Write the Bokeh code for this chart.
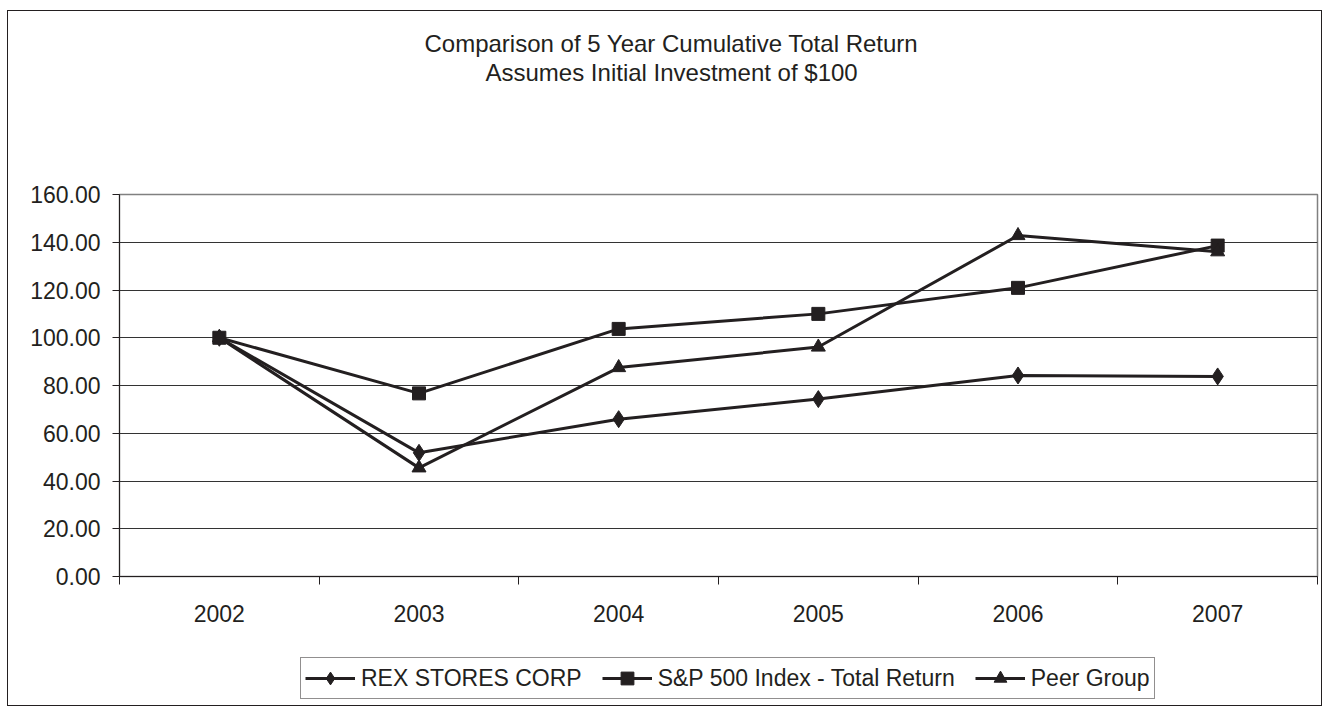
from bokeh.plotting import figure
from bokeh.layouts import column
from bokeh.models import (Range1d, FixedTicker, PrintfTickFormatter, Legend, LegendItem, Title)
from bokeh.embed import file_html
from bokeh.resources import INLINE

years = ["2002", "2003", "2004", "2005", "2006", "2007"]
rex = [100.00, 51.8, 65.9, 74.3, 84.2, 83.8]
sp500 = [100.00, 76.7, 103.7, 110.0, 120.9, 138.6]
peer = [100.00, 45.5, 87.5, 96.1, 142.8, 136.0]
y_ticks = [0, 20, 40, 60, 80, 100, 120, 140, 160]

title1 = "Comparison of 5 Year Cumulative Total Return"
title2 = "Assumes Initial Investment of $100"
series_names = ["REX STORES CORP", "S&P 500 Index - Total Return", "Peer Group"]

INK = "#231f20"
FONT = "Liberation Sans"
FS = "23px"
BORDER = "1px solid #231f20"

xs = [i + 0.5 for i in range(len(years))]

p = figure(width=1315, height=640, output_backend="svg", toolbar_location=None,
           x_range=Range1d(0, len(years)), y_range=Range1d(0, 160),
           min_border_left=111, min_border_right=6, min_border_top=183, min_border_bottom=75,
           background_fill_color="white", border_fill_color="white")
p.styles = {"border-left": BORDER, "border-right": BORDER, "border-top": BORDER}

p.title.visible = False
t2 = Title(text=title2, align="left", offset=366, standoff=0, text_font=FONT,
           text_font_size="24px", text_font_style="normal", text_color=INK,
           padding=dict(left=0, right=0, top=0, bottom=109))
t1 = Title(text=title1, align="left", offset=305, standoff=0, text_font=FONT,
           text_font_size="24px", text_font_style="normal", text_color=INK)
p.add_layout(t2, "above")
p.add_layout(t1, "above")

p.outline_line_color = "#808080"
p.outline_line_width = 1.5

p.xgrid.visible = False
p.ygrid.ticker = FixedTicker(ticks=y_ticks)
p.ygrid.grid_line_color = "#333333"
p.ygrid.grid_line_width = 1

p.yaxis.ticker = FixedTicker(ticks=y_ticks)
p.yaxis.formatter = PrintfTickFormatter(format="%.2f")
p.yaxis.major_tick_in = 0
p.yaxis.major_tick_out = 7
p.yaxis.minor_tick_line_color = None
p.yaxis.major_label_standoff = 12
p.yaxis.axis_line_color = INK
p.yaxis.major_tick_line_color = INK

p.xaxis.ticker = FixedTicker(ticks=xs, minor_ticks=list(range(len(years) + 1)))
p.xaxis.major_label_overrides = {x: y for x, y in zip(xs, years)}
p.xaxis.major_tick_in = 0
p.xaxis.major_tick_out = 0
p.xaxis.minor_tick_in = 0
p.xaxis.minor_tick_out = 8
p.xaxis.minor_tick_line_color = INK
p.xaxis.major_label_standoff = 20
p.xaxis.axis_line_color = INK

for ax in (p.xaxis, p.yaxis):
    ax.major_label_text_font = FONT
    ax.major_label_text_font_size = FS
    ax.major_label_text_color = INK

specs = [(rex, "diamond", 17), (sp500, "square", 13), (peer, "triangle", 14)]
for vals, marker, size in specs:
    p.line(xs, vals, line_color=INK, line_width=3)
    p.scatter(xs, vals, marker=marker, size=size, fill_color=INK, line_color=INK)

# legend strip below the chart; its renderers reuse the series (out of its view)
pl = figure(width=1315, height=56, output_backend="svg", toolbar_location=None,
            x_range=Range1d(0, 1), y_range=Range1d(-2, -1),
            x_axis_location=None, y_axis_location=None,
            min_border_left=0, min_border_right=0, min_border_top=0, min_border_bottom=0,
            background_fill_color="white", border_fill_color="white")
pl.styles = {"border-left": BORDER, "border-right": BORDER, "border-bottom": BORDER}
pl.title.visible = False
pl.outline_line_color = None
pl.xgrid.visible = False
pl.ygrid.visible = False

items = []
for (vals, marker, size), name in zip(specs, series_names):
    ln = pl.line(xs, vals, line_color=INK, line_width=3)
    sc = pl.scatter(xs, vals, marker=marker, size=size, fill_color=INK, line_color=INK)
    items.append(LegendItem(label=name, renderers=[ln, sc]))

legend = Legend(items=items, orientation="horizontal", location=(181, 7),
                label_text_font=FONT, label_text_font_size=FS, label_text_color=INK,
                glyph_width=50, glyph_height=32, label_standoff=6, spacing=20,
                padding=4, margin=0, border_line_color=INK, border_line_width=1,
                background_fill_color="white", background_fill_alpha=1.0)
pl.add_layout(legend, "center")

layout = column(p, pl, spacing=0)
layout.styles = {"margin-left": "7px", "margin-top": "10px"}

open("out.html", "w").write(file_html(layout, INLINE))
